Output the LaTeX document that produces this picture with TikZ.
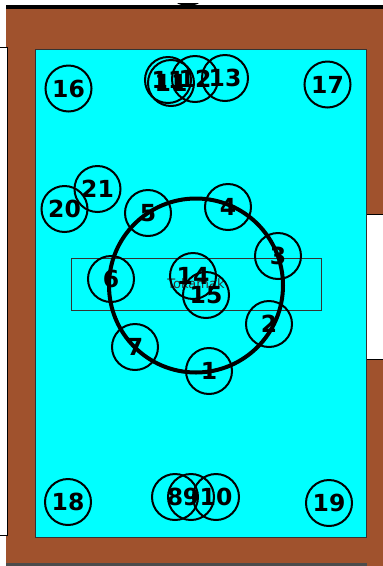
\documentclass[tikz,border=0pt]{standalone}
\usepackage{fontspec}
\newfontfamily\numfont{DejaVu Sans}
\definecolor{wall}{HTML}{A0522D}
\definecolor{floor}{HTML}{00FFFF}
\definecolor{edge}{HTML}{333333}
\tikzset{
  player/.style={circle, draw=black, line width=2pt, minimum size=46pt, inner sep=0pt,
    font=\numfont\bfseries\fontsize{23.5}{23.5}\selectfont},
  door/.style={fill=white, draw=black, line width=1pt},
}
\begin{document}
\begin{tikzpicture}[x=1pt,y=-1pt]
\useasboundingbox (0,0) rectangle (383,566);
\clip (0,0) rectangle (383,566);
% walls
\fill[wall] (6,9) rectangle (383,566);
\fill[black] (6,5) rectangle (383,9);
\fill[black] (177,3) .. controls (180,6.3) and (196,6.3) .. (199,3) -- cycle;
\fill[gray!60!black] (6,563) rectangle (367,566);
% doors
\draw[door] (-5,47) rectangle (7,535);
\draw[door] (365,214) rectangle (395,359);
% floor
\draw[fill=floor, draw=edge, line width=1pt] (35,49) rectangle (366,537);
% tokamak
\node[draw=edge, line width=0.6pt, minimum width=250pt, minimum height=52pt, inner sep=0pt,
  text=edge, font=\numfont\fontsize{13}{13}\selectfont] (tok) at (196,284) {Tokamak};
\draw[line width=4pt] (196,285.5) circle[radius=87];
% players
\node[player] (p16) at (68.5,88.5) {16};
\node[player] (p17) at (327.5,84.5) {17};
\node[player] (p18) at (68,502) {18};
\node[player] (p19) at (329,503) {19};
\node[player] (p20) at (64.5,209) {20};
\node[player] (p21) at (97.5,189) {21};
\node[player] (p5) at (148,213) {5};
\node[player] (p4) at (228,207) {4};
\node[player] (p3) at (278,256) {3};
\node[player] (p6) at (111,279) {6};
\node[player] (p14) at (193,276) {14};
\node[player] (p15) at (206,295) {15};
\node[player] (p2) at (269,324) {2};
\node[player] (p7) at (135,347) {7};
\node[player] (p1) at (209,371) {1};
\node[player] (p8) at (175,497) {8};
\node[player] (p9) at (191,497) {9};
\node[player] (p10) at (216,497) {10};
\node[player] (p11a) at (168,80) {11};
\node[player] (p11b) at (171,83) {11};
\node[player] (p12) at (195,79) {12};
\node[player] (p13) at (225,78) {13};
\end{tikzpicture}
\end{document}
